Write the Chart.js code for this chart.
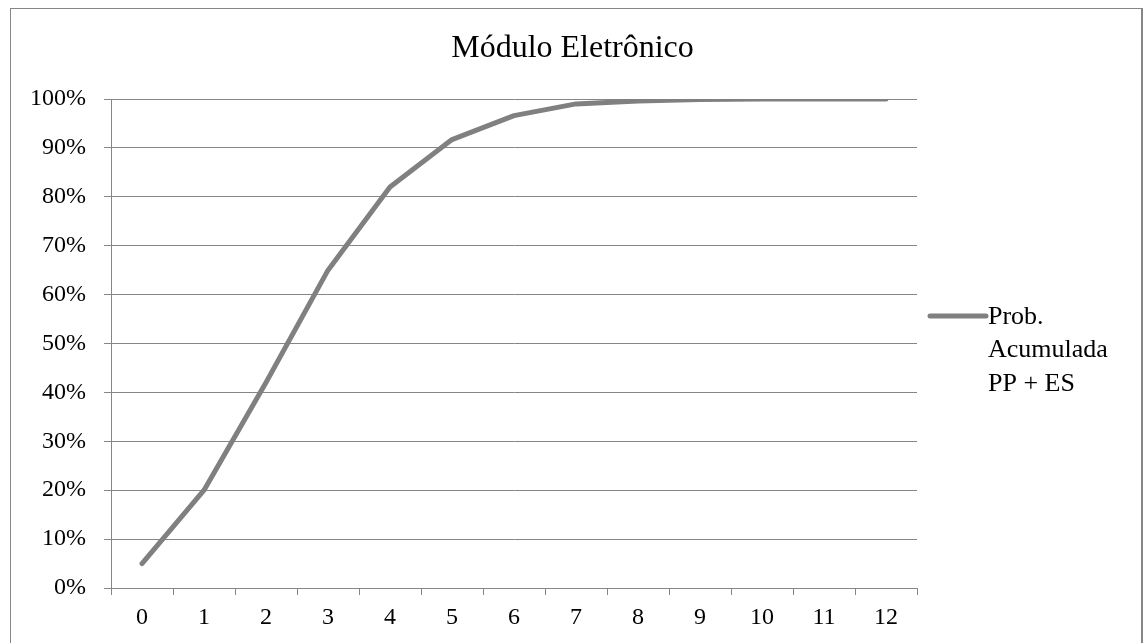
<!DOCTYPE html>
<html>
<head>
<meta charset="utf-8">
<script src="https://cdn.jsdelivr.net/npm/chart.js@4"></script>
<style>
  html, body { margin: 0; padding: 0; background: #fff; }
  #wrap { position: relative; width: 1145px; height: 643px; overflow: hidden; }
  #frame { position: absolute; left: 10px; top: 8px; width: 1133px; height: 700px; border: 1px solid #868686; border-width: 1px 2px 1px 1px; box-sizing: border-box; }
  canvas { position: absolute; left: 0; top: 0; }
</style>
</head>
<body>
<div id="wrap">
  <div id="frame"></div>
  <canvas id="c" width="1145" height="643"></canvas>
</div>
<script>
const chartTitle = 'Módulo Eletrônico';
const categories = ['0','1','2','3','4','5','6','7','8','9','10','11','12'];
const seriesLabel = ['Prob.', 'Acumulada', 'PP + ES'];
const seriesValues = [5, 20, 42, 65, 82, 91.7, 96.6, 99, 99.6, 99.9, 100, 100, 100];
const yTicks = [0, 10, 20, 30, 40, 50, 60, 70, 80, 90, 100];

const FONT = '"Liberation Serif", "Times New Roman", serif';
const GRID = '#868686';
const LINE = '#808080';

const legendPlugin = {
  id: 'sideLegend',
  afterDraw(chart) {
    const ctx = chart.ctx;
    const ds = chart.data.datasets[0];
    const x0 = 930, x1 = 986, y0 = 316;
    ctx.save();
    ctx.strokeStyle = ds.borderColor;
    ctx.lineWidth = ds.borderWidth;
    ctx.lineCap = 'round';
    ctx.beginPath();
    ctx.moveTo(x0, y0);
    ctx.lineTo(x1, y0);
    ctx.stroke();
    ctx.fillStyle = '#000';
    ctx.font = '26px ' + FONT;
    ctx.textBaseline = 'middle';
    ctx.textAlign = 'left';
    ds.label.forEach((t, i) => ctx.fillText(t, 988, 317 + i * 33.5));
    ctx.restore();
  }
};

new Chart(document.getElementById('c'), {
  type: 'line',
  data: {
    labels: categories,
    datasets: [{
      label: seriesLabel,
      data: seriesValues,
      borderColor: LINE,
      backgroundColor: LINE,
      borderWidth: 5,
      borderCapStyle: 'round',
      borderJoinStyle: 'round',
      pointRadius: 0,
      tension: 0,
      fill: false
    }]
  },
  options: {
    responsive: false,
    animation: false,
    devicePixelRatio: 1,
    layout: { padding: 0 },
    plugins: {
      legend: { display: false },
      tooltip: { enabled: false },
      title: {
        display: true,
        text: chartTitle,
        color: '#000',
        font: { family: FONT, size: 32, weight: 'normal', lineHeight: 1.2 },
        padding: { top: 29, bottom: 31.6 }
      }
    },
    scales: {
      x: {
        offset: true,
        grid: { offset: true, drawOnChartArea: false, drawTicks: true, tickLength: 7, color: GRID, lineWidth: 1 },
        border: { color: GRID, width: 1 },
        ticks: { color: '#000', font: { family: FONT, size: 24 }, padding: 8, maxRotation: 0, autoSkip: false },
        afterFit(scale) { scale.height = 55; }
      },
      y: {
        min: 0,
        max: 100,
        afterBuildTicks(scale) { scale.ticks = yTicks.map(v => ({ value: v })); },
        grid: { color: GRID, lineWidth: 1, tickLength: 7, drawTicks: true },
        border: { color: GRID, width: 1 },
        ticks: { color: '#000', font: { family: FONT, size: 24 }, padding: 18, callback: v => v + '%' },
        afterFit(scale) { scale.width = 111; }
      },
      legendSpace: {
        type: 'linear',
        position: 'right',
        display: true,
        grid: { display: false, drawTicks: false },
        border: { display: false },
        ticks: { display: false },
        afterFit(scale) { scale.width = 228; }
      }
    }
  },
  plugins: [legendPlugin]
});
</script>
</body>
</html>
